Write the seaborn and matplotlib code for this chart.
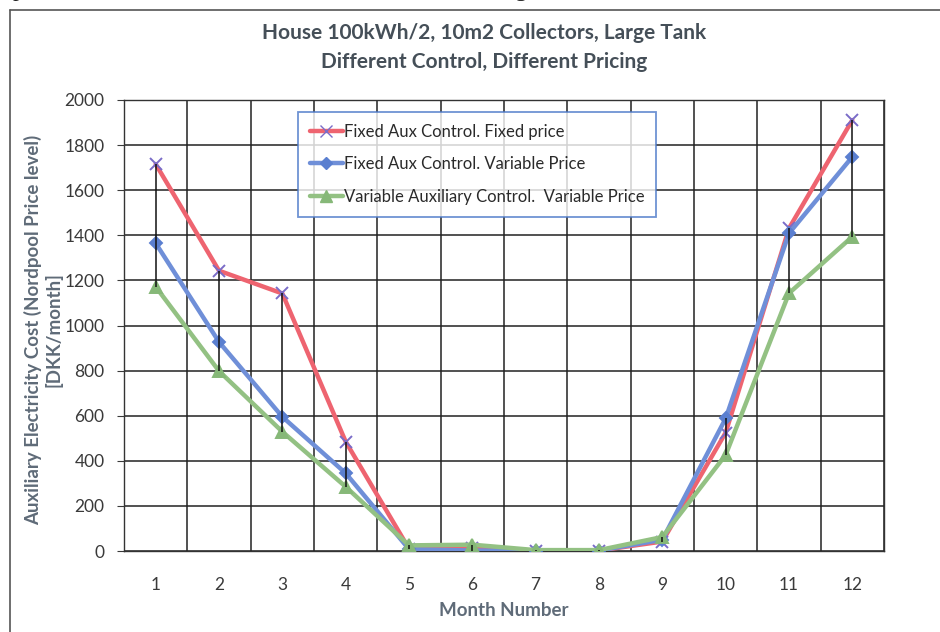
import matplotlib
matplotlib.use("Agg")
import matplotlib.pyplot as plt
from matplotlib.lines import Line2D
import seaborn as sns
import pandas as pd
import numpy as np

months = list(range(1, 13))
series_names = ["Fixed Aux Control. Fixed price",
                "Fixed Aux Control. Variable Price",
                "Variable Auxiliary Control.  Variable Price"]
fixed_fixed = [1716, 1243, 1142, 485, 10, 12, 2, 2, 42, 525, 1431, 1911]
fixed_variable = [1365, 927, 595, 345, 8, 2, 2, 2, 50, 588, 1409, 1748]
variable_variable = [1172, 798, 529, 285, 25, 28, 4, 4, 62, 426, 1143, 1394]

title_lines = ["House 100kWh/2, 10m2 Collectors, Large Tank",
               "Different Control, Different Pricing"]
y_label = "Auxiliary Electricity Cost (Nordpool Price level)\n[DKK/month]"
x_label = "Month Number"
y_ticks = [0, 200, 400, 600, 800, 1000, 1200, 1400, 1600, 1800, 2000]

df = pd.DataFrame({
    "Month": months * 3,
    "Cost": fixed_fixed + fixed_variable + variable_variable,
    "Series": [series_names[0]] * 12 + [series_names[1]] * 12 + [series_names[2]] * 12,
})

sns.set_style("white")
plt.rcParams["font.family"] = ["Lato", "DejaVu Sans"]

W, H = 940, 632
fig = plt.figure(figsize=(W / 100, H / 100), dpi=100)
left, right, top, bottom = 124, 884, 100, 551
ax = fig.add_axes([left / W, 1 - bottom / H, (right - left) / W, (bottom - top) / H])

colors = {series_names[0]: "#ee6470", series_names[1]: "#6f8fd8", series_names[2]: "#93c183"}
markers = {series_names[0]: "x", series_names[1]: "D", series_names[2]: "^"}
medge = {series_names[0]: "#7a6cc8", series_names[1]: "#5a7fd0", series_names[2]: "#86b878"}

# high-low lines
vals = np.array([fixed_fixed, fixed_variable, variable_variable])
ax.vlines(months, vals.min(axis=0), vals.max(axis=0), color="#111111", lw=1.1, zorder=4)

for name in series_names:
    sub = df[df["Series"] == name]
    sns.lineplot(data=sub, x="Month", y="Cost", ax=ax, color=colors[name], lw=3.2,
                 marker=markers[name], markersize=8 if markers[name] != "D" else 6,
                 markeredgecolor=medge[name], markerfacecolor=medge[name],
                 markeredgewidth=1.4, label=name, zorder=3, legend=False)

ax.set_xlim(0.5, 12.5)
ax.set_ylim(0, 2000)
ax.set_xticks(months)
ax.set_xticklabels([str(m) for m in months])
ax.set_yticks(y_ticks)
ax.set_xticks(np.arange(0.5, 13, 1), minor=True)
ax.grid(False)
ax.grid(True, which="minor", axis="x", color="#222222", lw=1.1)
ax.grid(True, which="major", axis="y", color="#222222", lw=1.1)
ax.set_axisbelow(True)
for s in ax.spines.values():
    s.set_color("#333333")
    s.set_linewidth(1.0)
ax.tick_params(axis="x", which="both", length=0, labelsize=12.5, colors="#3a3a3a", pad=19)
ax.tick_params(axis="y", which="major", length=5, direction="out", labelsize=12.5,
               colors="#3a3a3a", pad=9, left=True)

ax.set_xlabel(x_label, fontsize=13.5, fontweight="bold", color="#5f6b78", labelpad=6)
ax.set_ylabel(y_label, fontsize=13.5, fontweight="bold", color="#5f6b78",
              linespacing=1.1)
ax.yaxis.set_label_coords((62 - left) / (right - left), 0.49)

fig.text(484 / W, 1 - 33 / H, title_lines[0], ha="center", va="center",
         fontsize=15, fontweight="bold", color="#454f58")
fig.text(484 / W, 1 - 62 / H, title_lines[1], ha="center", va="center",
         fontsize=15, fontweight="bold", color="#454f58")

handles = [Line2D([], [], color=colors[n], lw=3.2, marker=markers[n],
                  markersize=8 if markers[n] != "D" else 6,
                  markeredgecolor=medge[n], markerfacecolor=medge[n]) for n in series_names]
leg = ax.legend(handles, series_names, loc="upper left",
                bbox_to_anchor=((298 - left) / (right - left), 1 - (112 - top) / (bottom - top)),
                frameon=True, fancybox=False, fontsize=12, handlelength=2.0,
                handletextpad=0.05, labelspacing=1.0, borderpad=0.7, borderaxespad=0)
leg.get_frame().set_edgecolor("#4a78c8")
leg.get_frame().set_linewidth(1.3)
for t in leg.get_texts():
    t.set_color("#2a2a2a")

# page border and clipped line of document text
fig.add_artist(Line2D([10 / W, 10 / W], [0, 1 - 10 / H], color="#555555", lw=1.2))
fig.add_artist(Line2D([10 / W, 1], [1 - 10 / H, 1 - 10 / H], color="#555555", lw=1.2))
fig.text(-12 / W, 1 + 4 / H, "improved with more advanced control and a smart storage.",
         ha="left", va="baseline", fontsize=17, family="Liberation Serif", color="#222222")

fig.savefig("out.png", dpi=100, facecolor="white")
